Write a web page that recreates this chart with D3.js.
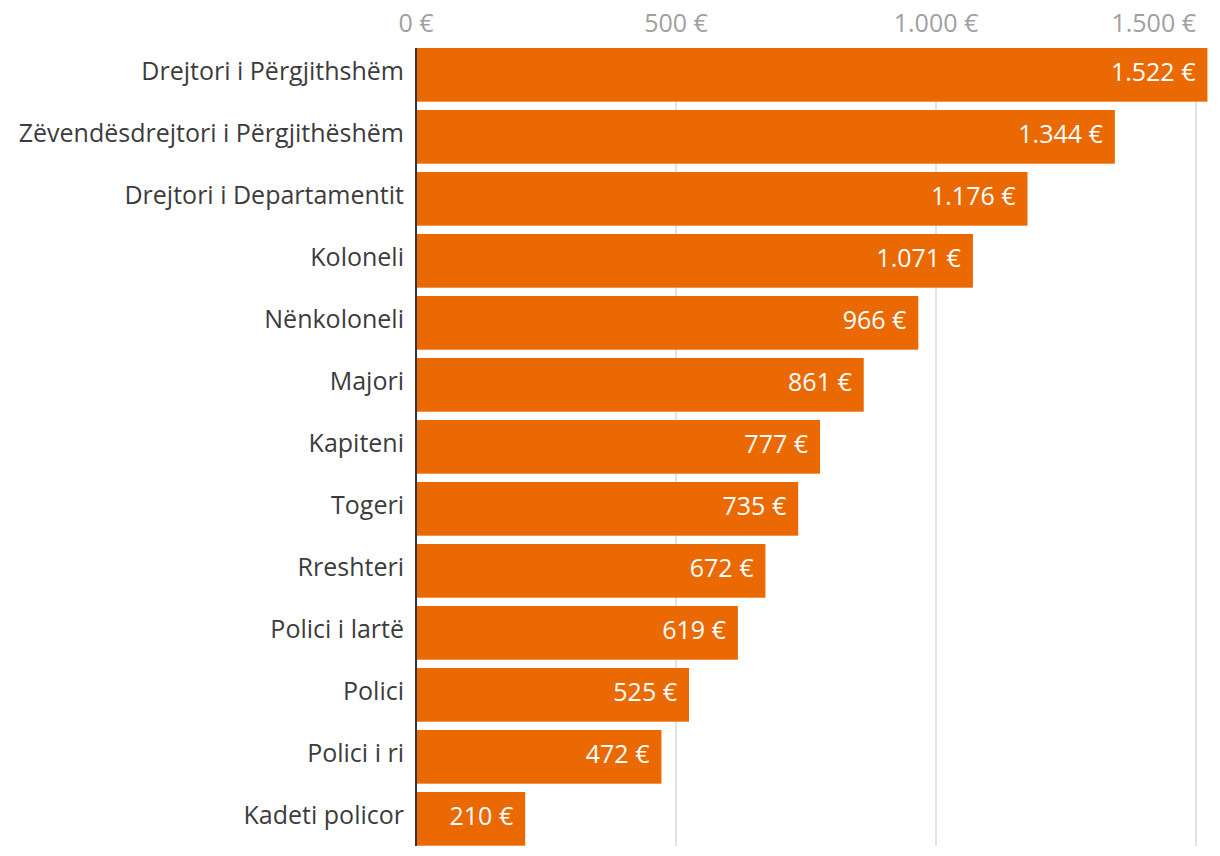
<!DOCTYPE html>
<html><head><meta charset="utf-8">
<script src="https://cdn.jsdelivr.net/npm/d3@7"></script>
<style>
html,body{margin:0;padding:0;background:#fff;}
svg{display:block;}
text{font-family:"Open Sans", "Noto Sans", sans-serif;}
</style></head>
<body>
<svg id="c" width="1220" height="856"></svg>
<script>
const categories = ["Drejtori i Përgjithshëm","Zëvendësdrejtori i Përgjithëshëm","Drejtori i Departamentit","Koloneli","Nënkoloneli","Majori","Kapiteni","Togeri","Rreshteri","Polici i lartë","Polici","Polici i ri","Kadeti policor"];
const values = [1522,1344,1176,1071,966,861,777,735,672,619,525,472,210];
const tickValues = [0,500,1000,1500];
const tickLabels = ["0 €","500 €","1.000 €","1.500 €"];

const fmt = v => d3.format(",")(v).replace(/,/g,".") + " €";
const svg = d3.select("#c");
const x = d3.scaleLinear().domain([0,1500]).range([416,1196]);
const y = d3.scaleBand().domain(categories).range([48,845.7]).paddingInner(0.134).paddingOuter(0);

// grid
svg.append("g").selectAll("line").data(tickValues.slice(1)).join("line")
  .attr("x1",d=>x(d)).attr("x2",d=>x(d)).attr("y1",48).attr("y2",846)
  .attr("stroke","#e3e3e3").attr("stroke-width",2);

// tick labels
svg.append("g").selectAll("text").data(tickValues).join("text")
  .attr("x",d=>x(d)).attr("y",31.5)
  .attr("text-anchor",(d,i)=>i===tickValues.length-1?"end":"middle")
  .attr("fill","#a0a0a0").attr("font-size",25).attr("font-weight",400)
  .text((d,i)=>tickLabels[i]);

// bars
svg.append("g").selectAll("rect").data(values).join("rect")
  .attr("x",x(0)+1).attr("y",(d,i)=>y(categories[i]))
  .attr("width",d=>x(d)-x(0)-1).attr("height",y.bandwidth())
  .attr("fill","#ea6903");

// value labels
svg.append("g").selectAll("text").data(values).join("text")
  .attr("x",d=>x(d)-12).attr("y",(d,i)=>y(categories[i])+y.bandwidth()/2+6.5)
  .attr("text-anchor","end")
  .attr("fill","#fff").attr("font-size",25).attr("font-weight",400)
  .text(d=>fmt(d));

// category labels
svg.append("g").selectAll("text").data(categories).join("text")
  .attr("x",404).attr("y",d=>y(d)+y.bandwidth()/2+5)
  .attr("text-anchor","end")
  .attr("fill","#3c3c3c").attr("font-size",25).attr("font-weight",400)
  .text(d=>d);

// zero line
svg.append("line").attr("x1",x(0)).attr("x2",x(0)).attr("y1",48).attr("y2",846)
  .attr("stroke","#333").attr("stroke-width",2);
</script>
</body></html>
